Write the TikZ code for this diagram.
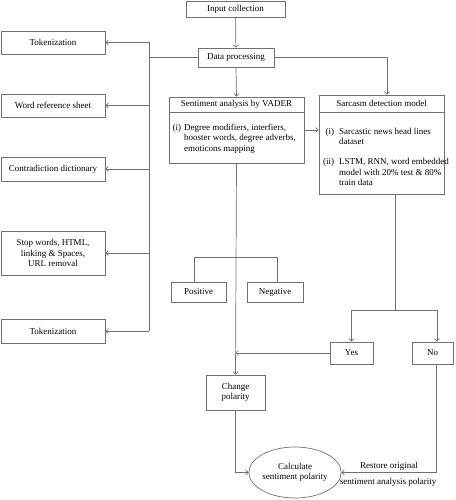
\documentclass[tikz,border=0pt]{standalone}
\usepackage{fontspec}
\setmainfont{Liberation Serif}
\usetikzlibrary{arrows.meta,shapes.geometric,calc}
\definecolor{lncol}{HTML}{707070}
\begin{document}
\begin{tikzpicture}[x=1pt,y=-1pt,
  box/.style={draw=lncol, line width=0.7pt, rectangle, inner sep=1pt, align=center,
    font=\fontsize{9}{10.5}\selectfont},
  lbl/.style={inner sep=0pt, align=center, font=\fontsize{9}{10.5}\selectfont},
  arr/.style={draw=lncol, line width=0.7pt, -{Straight Barb[length=2.5pt,width=5pt]}},
  plain/.style={draw=lncol, line width=0.7pt}]
\useasboundingbox (0,0) rectangle (455,500);

% top
\node[box, minimum width=99, minimum height=16] (input) at (235.5,9) {Input collection};
\node[box, minimum width=76, minimum height=19] (dp) at (236,57.5) {Data processing};

% left column
\node[box, minimum width=104, minimum height=23] (tok1) at (53,42.5) {Tokenization};
\node[box, minimum width=104, minimum height=23] (word) at (53,105.5) {Word reference sheet};
\node[box, minimum width=104, minimum height=24] (contra) at (53,169) {Contradiction dictionary};
\node[box, minimum width=104, minimum height=44] (stop) at (53,253) {Stop words, HTML,\\linking \& Spaces,\\URL removal};
\node[box, minimum width=104, minimum height=24] (tok2) at (53,331) {Tokenization};

% sentiment analysis box
\node[box, minimum width=135, minimum height=66] (sa) at (236.5,130) {};
\node[lbl] (sahead) at (236.5,104.5) {Sentiment analysis by VADER};
\draw[plain] (sa.west |- 0,112) -- (sa.east |- 0,112);
\node[lbl, anchor=base west] (sabody) at (172.5,130) {%
  \begin{tabular}[t]{@{}r@{\hspace{3pt}}l@{}}
  (i) & Degree modifiers, interfiers,\\
      & booster words, degree adverbs,\\
      & emoticons mapping
  \end{tabular}};

% sarcasm detection box
\node[box, minimum width=125, minimum height=99] (sd) at (381.5,144.5) {};
\node[lbl] (sdhead) at (381.5,103) {Sarcasm detection model};
\draw[plain] (sd.west |- 0,112) -- (sd.east |- 0,112);
\node[lbl, anchor=base west] (sdbody) at (323,134) {%
  \begin{tabular}[t]{@{}r@{\hspace{5pt}}l@{}}
  (i)  & Sarcastic news head lines\\
       & dataset\\[9.5pt]
  (ii) & LSTM, RNN, word embedded\\
       & model with 20\% test \& 80\%\\
       & train data
  \end{tabular}};

% polarity boxes
\node[box, minimum width=55, minimum height=20] (pos) at (198.5,292) {Positive};
\node[box, minimum width=56, minimum height=20] (neg) at (275,292) {Negative};

% yes / no
\node[box, minimum width=43, minimum height=22] (yes) at (351.5,353) {Yes};
\node[box, minimum width=41, minimum height=22] (no) at (432.5,353) {No};

% change polarity
\node[box, minimum width=59, minimum height=35] (cp) at (235.5,392.5) {Change\\polarity};

% calculate
\node[draw=lncol, line width=0.7pt, ellipse, minimum width=82, minimum height=51, inner sep=0pt,
  align=center, font=\fontsize{9}{10.5}\selectfont] (calc) at (295,472.5) {Calculate\\sentiment polarity};

\node[lbl] (rest1) at (389,466) {Restore original};
\node[lbl] (rest2) at (388,482) {sentiment analysis polarity};

% connectors
\draw[arr] (input) -- (dp);
\coordinate (trtop) at (149,42.5);
\coordinate (trbot) at (149,331);
\draw[plain] (trtop) -- (trbot);
\draw[plain] (dp.west) -- (trtop |- dp.west);
\draw[arr] (trtop) -- (tok1.east);
\draw[arr] (trtop |- word.east) -- (word.east);
\draw[arr] (trtop |- contra.east) -- (contra.east);
\draw[arr] (trtop |- stop.east) -- (stop.east);
\draw[arr] (trbot) -- (tok2.east);

\draw[arr] (dp.south) -- (sa.north);
\draw[arr] (dp.east) -| (sd.north -| 387,0);
\draw[arr] (sa.east |- 0,130) -- (sd.west |- 0,130);

% positive / negative branch
\draw[plain] (pos.north -| 194,0) -- (194,257) -- (277,257) -- (neg.north -| 277,0);

% sentiment down to change polarity
\draw[arr] (sa.south) -- (cp.north);

% sarcasm branch
\coordinate (sdsplit) at (395,310);
\draw[plain] (sd.south -| sdsplit) -- (sdsplit);
\draw[arr] (yes.north |- sdsplit) -- (yes.north);
\draw[arr] (437,310) -- (no.north -| 437,0);
\draw[plain] (yes.north |- sdsplit) -- (437,310);

\draw[arr] (yes.west) -- (cp.north |- yes.west);

% to calculate
\draw[arr] (cp.south) |- (calc.west);
\draw[arr] (no.south -| 436,0) |- (calc.east);
\end{tikzpicture}
\end{document}
